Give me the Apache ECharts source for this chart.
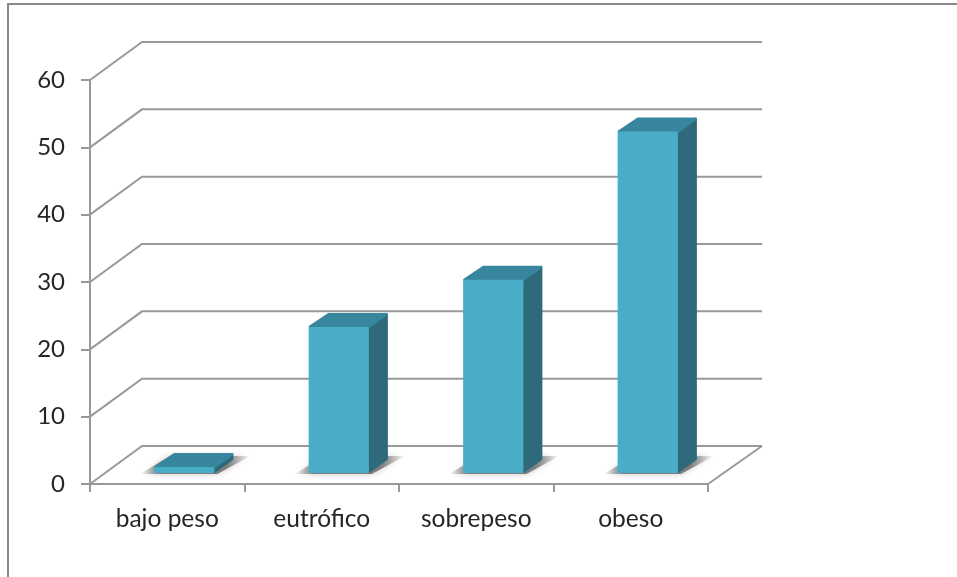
<!DOCTYPE html>
<html>
<head>
<meta charset="utf-8">
<style>html,body{margin:0;padding:0;background:#fff}#chart{width:957px;height:577px}</style>
<script src="https://cdn.jsdelivr.net/npm/echarts@6/dist/echarts.min.js"></script>
</head>
<body>
<div id="chart"></div>
<script>
// Weight-status groups and their values
const categories = ['bajo peso', 'eutrófico', 'sobrepeso', 'obeso'];
const values = [0.9, 21.7, 28.7, 50.7];
const valueTicks = [0, 10, 20, 30, 40, 50, 60];

// Projection of the chart's depth axis, in pixels
const wallDepth = [52, -38];
const wallDepthRight = [54, -38];
const barShift = [17, -11];
const barDepth = [19, -14];

const lineColor = '#999999';
const frontColor = '#4aadc8';
const topColor = '#38869e';
const sideColor = '#2f6a7b';

function renderWalls(params, api) {
  const val = api.value(0);
  const band = api.size([1, 0])[0];
  const y = api.coord([0, val])[1];
  const left = api.coord([0, val])[0] - band / 2;
  const right = api.coord([categories.length - 1, val])[0] + band / 2;
  const children = [{
    type: 'polyline',
    shape: { points: [[left, y], [left + wallDepth[0], y + wallDepth[1]], [right + wallDepthRight[0], y + wallDepthRight[1]]] },
    style: { stroke: lineColor, fill: null, lineWidth: 2 }
  }];
  if (val === 0) {
    children.push({
      type: 'line',
      shape: { x1: right, y1: y, x2: right + wallDepthRight[0], y2: y + wallDepthRight[1] },
      style: { stroke: lineColor, lineWidth: 2 }
    });
  }
  return { type: 'group', children };
}

function renderBar(params, api) {
  const i = api.value(0);
  const base = api.coord([i, 0]);
  const tip = api.coord([i, api.value(1)]);
  const half = api.size([1, 0])[0] * 0.195;
  const x0 = base[0] + barShift[0] - half;
  const x1 = base[0] + barShift[0] + half;
  const yb = base[1] + barShift[1];
  const yt = tip[1] + barShift[1];
  const dx = barDepth[0];
  const dy = barDepth[1];
  const inset = 1.25;
  // Faces are inset and stroked with a round join, which softens their corners
  const face = (points, color) => ({
    type: 'polygon',
    shape: { points },
    style: { fill: color, stroke: color, lineWidth: inset * 2, lineJoin: 'round' }
  });
  // Soft shadow cast on the floor behind the bar
  const shadow = {
    type: 'polygon',
    shape: { points: [[x0 - 14, yb + 1], [x1 + 3, yb + 1], [x1 + dx + 17, yb + dy - 3], [x0 + dx - 3, yb + dy - 3]] },
    style: {
      fill: {
        type: 'linear', x: 0, y: 0, x2: 1, y2: 0,
        colorStops: [
          { offset: 0, color: 'rgba(115,115,115,0)' },
          { offset: 0.18, color: 'rgba(115,115,115,0.9)' },
          { offset: 0.78, color: 'rgba(115,115,115,0.9)' },
          { offset: 1, color: 'rgba(115,115,115,0)' }
        ]
      },
      shadowBlur: 6,
      shadowColor: 'rgba(130,130,130,0.5)'
    }
  };
  return {
    type: 'group',
    children: [
      shadow,
      face([[x1, yb - inset], [x1 + dx - inset, yb + dy], [x1 + dx - inset, yt + dy + inset], [x1, yt]], sideColor),
      face([[x0 + inset, yt], [x1, yt], [x1 + dx - inset, yt + dy + inset], [x0 + dx + inset, yt + dy + inset]], topColor),
      face([[x0 + inset, yb - inset], [x1 - inset, yb - inset], [x1 - inset, yt + inset], [x0 + inset, yt + inset]], frontColor)
    ]
  };
}

const chart = echarts.init(document.getElementById('chart'), null, { renderer: 'canvas' });
chart.setOption({
  animation: false,
  backgroundColor: '#ffffff',
  textStyle: { fontFamily: 'Lato' },
  grid: { left: 90, right: 249, top: 80, bottom: 93 },
  graphic: [{
    type: 'polyline',
    silent: true,
    shape: { points: [[8, 577], [8, 4], [957, 4]] },
    style: { stroke: '#8a8a8a', fill: null, lineWidth: 2 }
  }],
  xAxis: {
    type: 'category',
    data: categories,
    boundaryGap: true,
    axisLine: { lineStyle: { color: lineColor, width: 2 } },
    axisTick: { show: true, length: 8, alignWithLabel: false, lineStyle: { color: lineColor, width: 2 } },
    axisLabel: { color: '#262626', fontSize: 24.5, margin: 23, fontFamily: 'Lato' }
  },
  yAxis: {
    type: 'value',
    min: 0,
    max: 60,
    interval: 10,
    splitLine: { show: false },
    axisLine: { show: true, lineStyle: { color: lineColor, width: 2 } },
    axisTick: { show: true, length: 9, lineStyle: { color: lineColor, width: 2 } },
    axisLabel: { color: '#262626', fontSize: 24, margin: 25, padding: [2, 0, 0, 0], fontFamily: 'Lato' }
  },
  series: [
    {
      type: 'custom',
      coordinateSystem: 'cartesian2d',
      renderItem: renderWalls,
      data: valueTicks.map(v => [v]),
      encode: { y: 0 },
      silent: true,
      clip: false,
      z: 1
    },
    {
      type: 'custom',
      coordinateSystem: 'cartesian2d',
      renderItem: renderBar,
      data: values.map((v, i) => [i, v]),
      encode: { x: 0, y: 1 },
      clip: false,
      z: 3
    }
  ]
});
</script>
</body>
</html>
